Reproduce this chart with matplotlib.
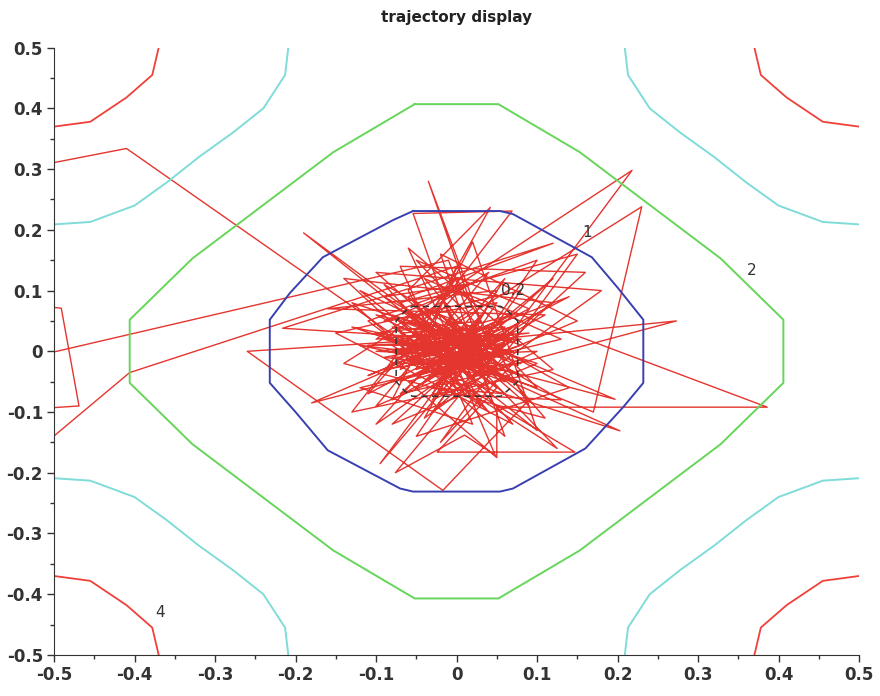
import matplotlib
matplotlib.use("Agg")
import matplotlib.pyplot as plt
from matplotlib.ticker import MultipleLocator

plt.rcParams["axes.unicode_minus"] = False

# contour levels (closed curves)
blue_x = [-0.054, 0.054, 0.07, 0.168, 0.2, 0.232, 0.232, 0.207, 0.16, 0.07, 0.054, -0.054,
          -0.07, -0.16, -0.2, -0.232, -0.232, -0.207, -0.166, -0.079, -0.054]
blue_y = [0.231, 0.231, 0.226, 0.155, 0.105, 0.052, -0.052, -0.092, -0.16, -0.226, -0.231, -0.231,
          -0.226, -0.163, -0.1, -0.052, 0.052, 0.096, 0.155, 0.216, 0.231]

green_x = [-0.052, 0.052, 0.153, 0.328, 0.406, 0.406, 0.328, 0.153, 0.052, -0.052,
           -0.153, -0.328, -0.406, -0.406, -0.328, -0.153, -0.052]
green_y = [0.407, 0.407, 0.328, 0.153, 0.052, -0.052, -0.153, -0.328, -0.407, -0.407,
           -0.328, -0.153, -0.052, 0.052, 0.153, 0.328, 0.407]

inner_x = [-0.055, 0.055, 0.064, 0.076, 0.076, 0.064, 0.055, -0.055, -0.064, -0.075, -0.075, -0.064, -0.055]
inner_y = [0.074, 0.074, 0.066, 0.05, -0.05, -0.064, -0.074, -0.074, -0.066, -0.05, 0.05, 0.066, 0.074]

# corner pieces
cyan_tr = ([0.209, 0.213, 0.24, 0.278, 0.32, 0.36, 0.40, 0.455, 0.5],
           [0.5, 0.455, 0.40, 0.36, 0.32, 0.278, 0.24, 0.213, 0.209])
cyan_tl = ([-0.209, -0.213, -0.24, -0.278, -0.32, -0.36, -0.40, -0.455, -0.5],
           [0.5, 0.455, 0.40, 0.36, 0.32, 0.278, 0.24, 0.213, 0.209])
cyan_br = ([0.209, 0.213, 0.24, 0.278, 0.32, 0.36, 0.40, 0.455, 0.5],
           [-0.5, -0.455, -0.40, -0.36, -0.32, -0.278, -0.24, -0.213, -0.209])
cyan_bl = ([-0.209, -0.213, -0.24, -0.278, -0.32, -0.36, -0.40, -0.455, -0.5],
           [-0.5, -0.455, -0.40, -0.36, -0.32, -0.278, -0.24, -0.213, -0.209])

red_tl = ([-0.5, -0.455, -0.41, -0.378, -0.37], [0.37, 0.378, 0.418, 0.455, 0.5])
red_tr = ([0.5, 0.455, 0.41, 0.378, 0.37], [0.37, 0.378, 0.418, 0.455, 0.5])
red_bl = ([-0.5, -0.455, -0.41, -0.378, -0.37], [-0.37, -0.378, -0.418, -0.455, -0.5])
red_br = ([0.5, 0.455, 0.41, 0.378, 0.37], [-0.37, -0.378, -0.418, -0.455, -0.5])

level_labels = ["0.2", "1", "2", "4"]
label_x = [0.07, 0.162, 0.367, -0.368]
label_y = [0.1, 0.196, 0.133, -0.43]

# trajectory points
traj_x = [-0.56, -0.406, 0.0, -0.05, 0.07, -0.08, 0.04, -0.02, 0.03, -0.19, 0.0, -0.07, 0.06, -0.1,
          0.218, 0.04, -0.06, 0.08, -0.04, 0.09, -0.26, -0.017, 0.09, -0.03, 0.05, -0.09, 0.02,
          -0.035, 0.03, -0.07, 0.06, -0.02, 0.23, 0.17, -0.05, 0.07, -0.11, 0.0, -0.216, 0.12,
          -0.06, 0.04, -0.08, 0.1, -0.03, 0.05, -0.09, 0.0, 0.386, 0.05, 0.05, -0.06, 0.08, -0.04,
          0.02, -0.054, 0.069, -0.03, 0.06, -0.1, 0.273, 0.02, -0.07, 0.04, -0.18, -0.02, 0.06,
          -0.05, 0.147, -0.024, 0.05, -0.08, 0.03, -0.095, 0.01, -0.06, 0.203, 0.0, -0.04, 0.07,
          -0.1, 0.02, 0.197, -0.03, 0.05, -0.07, 0.042, -0.06, 0.01, -0.08, 0.08, -0.02, 0.03,
          -0.012, -0.41, -0.6, -0.56, -0.491, -0.469, -0.56, -0.62, -0.01, 0.04, -0.05, 0.06,
          -0.03, 0.08, -0.076, 0.01, 0.048, -0.02, 0.125, -0.04, 0.06, -0.07, 0.02, 0.14, -0.05,
          0.03, -0.06, 0.02, -0.01, 0.05, -0.08, 0.04, -0.03, 0.07, -0.05, 0.01, -0.09, 0.06,
          -0.02, 0.03, -0.07, 0.05, -0.12, 0.0,
          0.12, -0.08, 0.1, -0.13, 0.06, -0.02, 0.15, -0.1, 0.04, -0.14, 0.11, -0.04, 0.13, -0.12,
          0.02, -0.07, 0.16, -0.03, 0.08, -0.15, 0.07, -0.09, 0.14, -0.05, 0.1, -0.11, 0.03, -0.06,
          0.12, -0.13, 0.0, 0.09, -0.1, 0.18, -0.04, 0.05, -0.16, 0.11, -0.08, 0.02, 0.1, -0.12,
          0.07, -0.02, 0.15, -0.07, 0.04, -0.14, 0.12, -0.1, 0.06, -0.03, 0.13, -0.09, 0.01, -0.11,
          0.09, -0.05, 0.1, -0.13,
          -0.06, 0.05, -0.09, 0.07, -0.04, 0.03, -0.1, 0.06, -0.02, 0.04, -0.08, 0.07, -0.05, 0.02,
          -0.11, 0.05, -0.03, 0.08, -0.07, 0.0]
traj_y = [-0.206, -0.035, 0.14, -0.03, 0.02, 0.04, -0.06, 0.09, -0.02, 0.195, -0.005, -0.05, 0.04, 0.02,
          0.298, -0.02, 0.06, -0.04, 0.01, 0.03, 0.0, -0.229, -0.08, 0.05, 0.0, -0.03, 0.07,
          0.28, 0.05, -0.07, -0.03, 0.03, 0.238, -0.1, 0.02, 0.06, -0.04, 0.02, 0.038, 0.178,
          0.09, -0.04, -0.01, 0.0, -0.08, 0.08, 0.05, 0.1, -0.092, -0.092, -0.175, -0.05, 0.01, 0.07,
          -0.05, 0.227, 0.231, 0.06, -0.01, 0.0, 0.05, -0.04, 0.03, 0.04, -0.085, -0.03, 0.03,
          -0.01, -0.166, -0.166, -0.06, 0.06, 0.01, -0.185, 0.0, -0.02, -0.131, -0.01, 0.04, -0.05,
          0.06, 0.02, -0.079, 0.0, 0.05, -0.03, 0.237, 0.1, -0.07, 0.01, 0.02, -0.02, 0.06,
          -0.035, 0.334, 0.285, 0.08, 0.071, -0.09, -0.098, -0.038, 0.15, -0.03, 0.05, -0.07,
          -0.06, 0.05, -0.2, -0.138, -0.171, 0.04, -0.16, -0.02, 0.02, 0.0, 0.03, 0.09, -0.04,
          -0.01, 0.01, -0.03, 0.05, -0.02, -0.02, 0.02, -0.04, 0.0, 0.03, -0.02, 0.02, 0.01,
          -0.05, 0.04, 0.02, -0.04, 0.01, -0.01,
          0.12, -0.12, -0.02, 0.08, -0.14, 0.16, 0.05, -0.09, 0.13, -0.02, -0.11, 0.12, 0.02, -0.06,
          -0.12, 0.14, 0.13, -0.1, 0.1, 0.03, -0.12, 0.11, -0.06, -0.14, 0.15, 0.05, -0.09, 0.17,
          -0.03, -0.1, 0.12, -0.09, 0.13, 0.1, -0.11, 0.1, 0.07, 0.06, -0.08, 0.18, -0.13, 0.1,
          -0.02, -0.15, 0.16, 0.08, -0.1, 0.12, 0.08, -0.12, 0.12, -0.07, -0.08, 0.09, 0.11, -0.07,
          0.07, 0.15, -0.06, 0.04,
          0.02, -0.03, -0.01, 0.03, -0.05, 0.05, 0.03, -0.05, 0.06, -0.01, 0.0, 0.04, -0.06, 0.01,
          0.01, 0.02, -0.03, -0.02, 0.05, -0.04]

fig = plt.figure(figsize=(8.8, 6.96), dpi=100)
ax = fig.add_axes([0.0614, 0.059, 0.9148, 0.8725])

ax.plot(traj_x, traj_y, color="#e5352f", lw=1.0)

ax.plot(inner_x, inner_y, color="#333333", lw=1.1, ls=(0, (4, 3)))
ax.plot(blue_x, blue_y, color="#3a3fb0", lw=1.4)
ax.plot(green_x, green_y, color="#66d65a", lw=1.4)
for cx, cy in [cyan_tr, cyan_tl, cyan_br, cyan_bl]:
    ax.plot(cx, cy, color="#7fdcd8", lw=1.4)
for rx, ry in [red_tl, red_tr, red_bl, red_br]:
    ax.plot(rx, ry, color="#f0403a", lw=1.3)

for t, lx, ly in zip(level_labels, label_x, label_y):
    ax.text(lx, ly, t, fontsize=11, color="#333333", ha="center", va="center")

ax.set_xlim(-0.5, 0.5)
ax.set_ylim(-0.5, 0.5)
ticks = [-0.5, -0.4, -0.3, -0.2, -0.1, 0, 0.1, 0.2, 0.3, 0.4, 0.5]
tick_labels = ["-0.5", "-0.4", "-0.3", "-0.2", "-0.1", "0", "0.1", "0.2", "0.3", "0.4", "0.5"]
ax.set_xticks(ticks)
ax.set_xticklabels(tick_labels)
ax.set_yticks(ticks)
ax.set_yticklabels(tick_labels)
ax.xaxis.set_minor_locator(MultipleLocator(0.05))
ax.yaxis.set_minor_locator(MultipleLocator(0.05))
ax.tick_params(which="major", length=5, width=1, color="#333333", labelsize=12,
               labelcolor="#333333", pad=3)
ax.tick_params(which="minor", length=3, width=1, color="#333333")
for lab in ax.get_xticklabels() + ax.get_yticklabels():
    lab.set_fontweight("bold")

ax.spines["top"].set_visible(False)
ax.spines["right"].set_visible(False)
ax.spines["left"].set_color("#333333")
ax.spines["bottom"].set_color("#333333")

fig.text(0.519, 0.975, "trajectory display", fontsize=11, fontweight="bold",
         color="#222222", ha="center", va="center")

fig.savefig("out.png", dpi=100)
